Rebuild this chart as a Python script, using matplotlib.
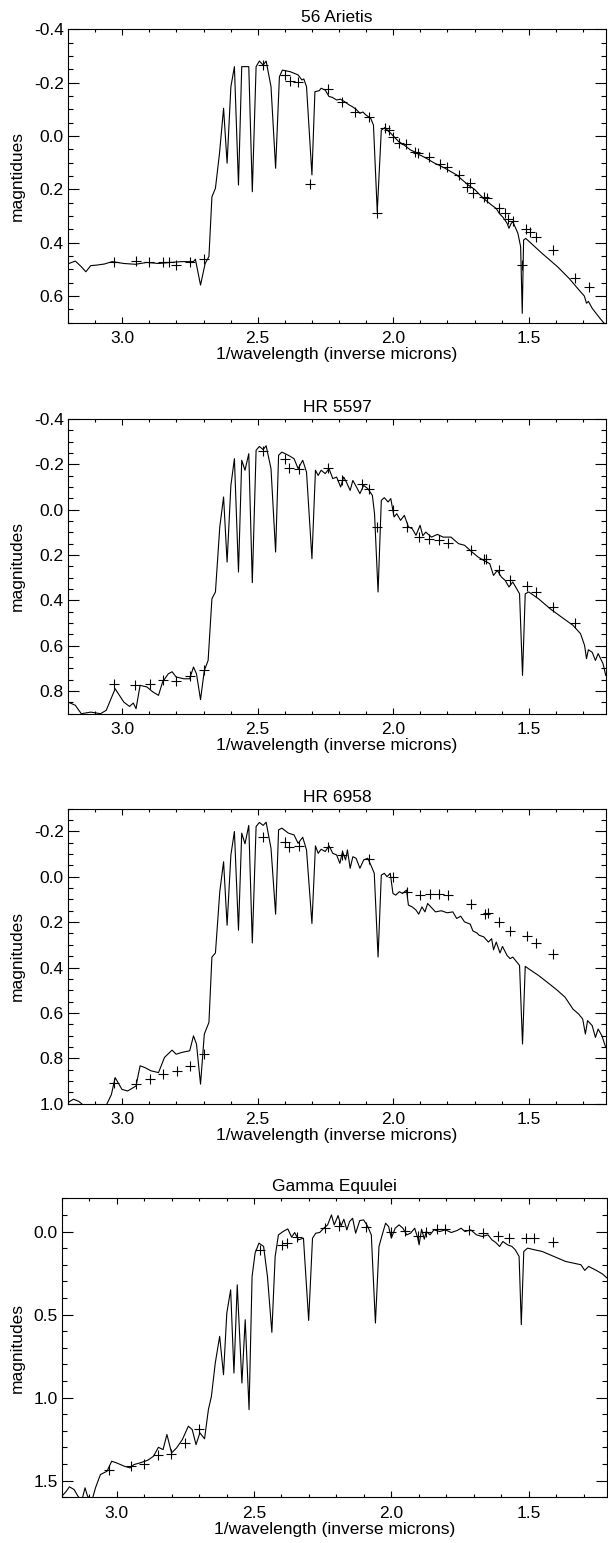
import numpy as np
import matplotlib.pyplot as plt
from matplotlib.ticker import MultipleLocator, FuncFormatter

plt.rcParams['font.family'] = ['Liberation Sans', 'DejaVu Sans']

titles = ['56 Arietis', 'HR 5597', 'HR 6958', 'Gamma Equulei']
ylabels = ['magntidues', 'magnitudes', 'magnitudes', 'magnitudes']
xlabel = '1/wavelength (inverse microns)'

# 56 Arietis: model spectrum and observed points
ari_wave = [3.199, 3.173, 3.151, 3.134, 3.116, 3.094, 3.066, 3.037, 2.994, 2.951, 2.909, 2.866,
            2.823, 2.78, 2.737, 2.73, 2.711, 2.694, 2.68, 2.669, 2.656, 2.641, 2.626, 2.613,
            2.599, 2.586, 2.571, 2.559, 2.533, 2.52, 2.506, 2.494, 2.48, 2.469, 2.451, 2.434,
            2.42, 2.409, 2.38, 2.351, 2.337, 2.33, 2.32, 2.3, 2.289, 2.273, 2.266, 2.251,
            2.237, 2.225, 2.209, 2.195, 2.18, 2.165, 2.151, 2.137, 2.123, 2.112, 2.101, 2.083,
            2.073, 2.059, 2.044, 2.03, 2.02, 2.009, 1.995, 1.98, 1.965, 1.952, 1.937, 1.92,
            1.905, 1.894, 1.875, 1.851, 1.83, 1.809, 1.785, 1.766, 1.745, 1.723, 1.7, 1.68,
            1.66, 1.637, 1.62, 1.609, 1.595, 1.58, 1.573, 1.566, 1.559, 1.54, 1.53, 1.524,
            1.519, 1.511, 1.451, 1.394, 1.351, 1.309, 1.295, 1.287, 1.28, 1.266, 1.237, 1.216]
ari_mag = [0.479, 0.469, 0.49, 0.509, 0.486, 0.484, 0.48, 0.471, 0.478, 0.481, 0.474, 0.478,
           0.474, 0.471, 0.471, 0.462, 0.559, 0.478, 0.452, 0.228, 0.196, 0.065, -0.104, 0.102,
           -0.185, -0.26, 0.184, -0.26, -0.26, 0.209, -0.26, -0.281, -0.266, -0.281, -0.185, 0.121,
           -0.222, -0.247, -0.241, -0.229, -0.21, -0.214, -0.185, 0.146, -0.166, -0.17, -0.179, -0.172,
           -0.148, -0.145, -0.135, -0.138, -0.129, -0.118, -0.11, -0.1, -0.085, -0.09, -0.079, -0.066,
           -0.041, 0.284, -0.022, -0.032, -0.02, -0.01, 0.005, 0.021, 0.03, 0.04, 0.052, 0.06,
           0.07, 0.075, 0.085, 0.1, 0.11, 0.121, 0.135, 0.146, 0.165, 0.184, 0.2, 0.221,
           0.24, 0.259, 0.272, 0.29, 0.305, 0.327, 0.346, 0.33, 0.321, 0.365, 0.415, 0.665,
           0.39, 0.384, 0.44, 0.49, 0.534, 0.584, 0.6, 0.627, 0.62, 0.646, 0.684, 0.709]
ari_obs_wave = [3.03, 2.949, 2.901, 2.851, 2.826, 2.801, 2.751, 2.699, 2.48, 2.401, 2.38, 2.351,
                2.306, 2.24, 2.19, 2.14, 2.09, 2.059, 2.03, 2.016, 2.001, 1.977, 1.954, 1.92,
                1.909, 1.869, 1.827, 1.801, 1.756, 1.727, 1.716, 1.706, 1.666, 1.654, 1.609, 1.587,
                1.577, 1.559, 1.526, 1.509, 1.494, 1.473, 1.409, 1.33, 1.277]
ari_obs_mag = [0.474, 0.469, 0.474, 0.474, 0.474, 0.484, 0.474, 0.462, -0.266, -0.229, -0.208, -0.204,
               0.181, -0.175, -0.129, -0.091, -0.07, 0.29, -0.029, -0.022, 0.002, 0.028, 0.03, 0.059,
               0.062, 0.078, 0.105, 0.115, 0.146, 0.19, 0.175, 0.212, 0.228, 0.234, 0.271, 0.29,
               0.312, 0.318, 0.484, 0.35, 0.359, 0.378, 0.428, 0.531, 0.565]

# HR 5597
hr5597_wave = [3.199, 3.173, 3.151, 3.116, 3.08, 3.059, 3.026, 2.994, 2.973, 2.959, 2.949, 2.934,
               2.909, 2.887, 2.866, 2.851, 2.83, 2.816, 2.801, 2.773, 2.751, 2.737, 2.726, 2.711,
               2.697, 2.683, 2.669, 2.656, 2.64, 2.626, 2.613, 2.599, 2.586, 2.571, 2.559, 2.547,
               2.533, 2.52, 2.506, 2.494, 2.48, 2.469, 2.451, 2.434, 2.423, 2.411, 2.387, 2.366,
               2.351, 2.334, 2.32, 2.3, 2.287, 2.277, 2.266, 2.251, 2.237, 2.223, 2.209, 2.194,
               2.183, 2.173, 2.159, 2.149, 2.137, 2.123, 2.109, 2.094, 2.077, 2.069, 2.056, 2.044,
               2.033, 2.019, 2.009, 1.997, 1.987, 1.973, 1.959, 1.944, 1.93, 1.916, 1.901, 1.891,
               1.88, 1.859, 1.837, 1.816, 1.787, 1.759, 1.737, 1.709, 1.687, 1.666, 1.644, 1.63,
               1.616, 1.601, 1.587, 1.573, 1.559, 1.534, 1.523, 1.513, 1.5, 1.464, 1.421, 1.379,
               1.337, 1.309, 1.294, 1.287, 1.28, 1.266, 1.254, 1.244, 1.226, 1.216]
hr5597_mag = [0.849, 0.863, 0.9, 0.893, 0.9, 0.885, 0.79, 0.849, 0.868, 0.853, 0.878, 0.775,
              0.782, 0.804, 0.819, 0.76, 0.724, 0.715, 0.738, 0.746, 0.746, 0.694, 0.724, 0.838,
              0.709, 0.665, 0.393, 0.363, 0.076, -0.056, 0.231, -0.107, -0.225, 0.275, -0.218, -0.174,
              -0.247, 0.322, -0.262, -0.279, -0.265, -0.282, -0.181, 0.187, -0.24, -0.254, -0.24, -0.225,
              -0.181, -0.218, -0.166, 0.216, -0.174, -0.151, -0.174, -0.159, -0.181, -0.137, -0.144, -0.1,
              -0.144, -0.122, -0.085, -0.129, -0.103, -0.071, -0.107, -0.093, -0.063, 0.018, 0.363, -0.041,
              -0.053, -0.034, -0.049, 0.032, 0.018, 0.047, 0.025, 0.076, 0.084, 0.113, 0.069, 0.115,
              0.099, 0.121, 0.109, 0.121, 0.121, 0.15, 0.157, 0.187, 0.209, 0.224, 0.238, 0.29,
              0.268, 0.297, 0.312, 0.341, 0.319, 0.371, 0.731, 0.371, 0.363, 0.393, 0.437, 0.474,
              0.51, 0.547, 0.599, 0.657, 0.618, 0.629, 0.665, 0.635, 0.679, 0.731]
hr5597_obs_wave = [3.03, 2.951, 2.899, 2.851, 2.801, 2.751, 2.699, 2.48, 2.401, 2.383, 2.349, 2.24,
                   2.19, 2.116, 2.09, 2.059, 2.001, 1.951, 1.904, 1.869, 1.83, 1.799, 1.713, 1.666,
                   1.656, 1.609, 1.569, 1.506, 1.473, 1.409, 1.33]
hr5597_obs_mag = [0.771, 0.775, 0.771, 0.753, 0.756, 0.734, 0.706, -0.259, -0.222, -0.185, -0.181, -0.185,
                  -0.132, -0.115, -0.09, 0.076, 0.0, 0.076, 0.121, 0.131, 0.135, 0.146, 0.176, 0.216,
                  0.219, 0.265, 0.309, 0.337, 0.365, 0.429, 0.5]

# HR 6958
hr6958_wave = [3.2, 3.18, 3.16, 3.14, 3.1, 3.06, 3.04, 3.026, 3.001, 2.98, 2.949, 2.934,
               2.916, 2.894, 2.866, 2.844, 2.816, 2.801, 2.78, 2.751, 2.737, 2.726, 2.711, 2.697,
               2.68, 2.669, 2.656, 2.64, 2.626, 2.613, 2.599, 2.586, 2.571, 2.559, 2.547, 2.533,
               2.52, 2.506, 2.494, 2.48, 2.469, 2.451, 2.434, 2.423, 2.411, 2.387, 2.366, 2.351,
               2.334, 2.32, 2.3, 2.287, 2.277, 2.266, 2.251, 2.237, 2.223, 2.209, 2.197, 2.187,
               2.176, 2.169, 2.159, 2.149, 2.137, 2.123, 2.109, 2.094, 2.08, 2.07, 2.056, 2.044,
               2.033, 2.023, 2.011, 2.001, 1.991, 1.977, 1.966, 1.951, 1.944, 1.93, 1.916, 1.906,
               1.894, 1.883, 1.873, 1.859, 1.844, 1.823, 1.801, 1.78, 1.766, 1.751, 1.737, 1.716,
               1.706, 1.691, 1.683, 1.666, 1.649, 1.637, 1.63, 1.62, 1.606, 1.597, 1.58, 1.569,
               1.559, 1.534, 1.523, 1.513, 1.5, 1.464, 1.421, 1.394, 1.366, 1.337, 1.316, 1.301,
               1.291, 1.283, 1.266, 1.254, 1.244, 1.23, 1.216]
hr6958_mag = [0.995, 0.98, 0.99, 1.01, 1.02, 1.01, 0.96, 0.885, 0.937, 0.944, 0.922, 0.833,
              0.841, 0.855, 0.863, 0.796, 0.764, 0.782, 0.774, 0.767, 0.701, 0.737, 0.914, 0.693,
              0.642, 0.354, 0.336, 0.066, -0.066, 0.214, -0.096, -0.199, 0.236, -0.192, -0.145, -0.226,
              0.292, -0.221, -0.239, -0.226, -0.24, -0.125, 0.165, -0.206, -0.214, -0.192, -0.184, -0.147,
              -0.174, -0.118, 0.206, -0.136, -0.103, -0.121, -0.111, -0.136, -0.103, -0.096, -0.059, -0.111,
              -0.074, -0.118, -0.037, -0.088, -0.081, -0.037, -0.074, -0.081, -0.044, -0.015, 0.354, -0.007,
              -0.015, 0.0, -0.015, 0.074, 0.081, 0.066, 0.074, 0.059, 0.125, 0.133, 0.147, 0.165,
              0.133, 0.155, 0.118, 0.136, 0.155, 0.15, 0.159, 0.155, 0.184, 0.174, 0.199, 0.209,
              0.239, 0.248, 0.258, 0.265, 0.288, 0.273, 0.322, 0.288, 0.336, 0.307, 0.347, 0.361,
              0.354, 0.391, 0.737, 0.395, 0.406, 0.435, 0.475, 0.501, 0.531, 0.583, 0.605, 0.627,
              0.693, 0.634, 0.656, 0.708, 0.671, 0.701, 0.752]
hr6958_obs_wave = [3.03, 2.949, 2.899, 2.849, 2.799, 2.751, 2.697, 2.48, 2.401, 2.383, 2.349, 2.24,
                   2.19, 2.09, 2.001, 1.951, 1.901, 1.866, 1.83, 1.799, 1.713, 1.663, 1.651, 1.609,
                   1.569, 1.506, 1.473, 1.409]
hr6958_obs_mag = [0.907, 0.914, 0.892, 0.87, 0.858, 0.836, 0.779, -0.177, -0.155, -0.13, -0.137, -0.13,
                  -0.096, -0.078, 0.0, 0.066, 0.081, 0.077, 0.077, 0.081, 0.121, 0.165, 0.159, 0.199,
                  0.239, 0.261, 0.291, 0.339]

# Gamma Equulei
geq_wave = [3.199, 3.183, 3.172, 3.155, 3.141, 3.127, 3.115, 3.106, 3.09, 3.077, 3.059, 3.035,
            3.018, 3.0, 2.972, 2.951, 2.937, 2.915, 2.887, 2.866, 2.848, 2.831, 2.817, 2.8,
            2.782, 2.761, 2.739, 2.725, 2.711, 2.697, 2.68, 2.666, 2.655, 2.641, 2.625, 2.611,
            2.599, 2.585, 2.573, 2.561, 2.544, 2.532, 2.518, 2.507, 2.496, 2.482, 2.465, 2.451,
            2.435, 2.423, 2.411, 2.394, 2.377, 2.363, 2.352, 2.338, 2.32, 2.301, 2.287, 2.275,
            2.261, 2.246, 2.232, 2.218, 2.208, 2.194, 2.183, 2.173, 2.162, 2.152, 2.141, 2.13,
            2.115, 2.101, 2.087, 2.073, 2.058, 2.045, 2.035, 2.021, 2.01, 2.0, 1.986, 1.972,
            1.958, 1.944, 1.93, 1.915, 1.904, 1.899, 1.89, 1.88, 1.873, 1.859, 1.845, 1.824,
            1.803, 1.782, 1.761, 1.746, 1.732, 1.711, 1.69, 1.669, 1.648, 1.634, 1.62, 1.606,
            1.594, 1.577, 1.561, 1.549, 1.535, 1.527, 1.518, 1.504, 1.479, 1.451, 1.423, 1.394,
            1.366, 1.338, 1.31, 1.296, 1.282, 1.254, 1.232, 1.214]
geq_mag = [1.593, 1.563, 1.537, 1.553, 1.593, 1.62, 1.543, 1.593, 1.62, 1.543, 1.463, 1.443,
           1.383, 1.393, 1.413, 1.423, 1.403, 1.393, 1.377, 1.353, 1.299, 1.313, 1.222, 1.333,
           1.303, 1.253, 1.172, 1.192, 1.283, 1.212, 1.248, 1.072, 0.992, 0.792, 0.631, 0.862,
           0.491, 0.351, 0.852, 0.321, 0.912, 0.531, 1.072, 0.271, 0.13, 0.07, 0.09, 0.271,
           0.607, 0.15, 0.02, 0.0, -0.016, 0.034, 0.006, 0.05, 0.04, 0.535, 0.04, 0.01,
           0.006, -0.02, -0.04, -0.1, -0.04, -0.096, -0.034, -0.074, -0.01, -0.06, -0.08, 0.01,
           -0.066, -0.07, -0.034, 0.02, 0.551, 0.09, 0.03, -0.05, -0.03, 0.04, -0.02, -0.04,
           -0.02, 0.02, 0.01, -0.02, 0.04, 0.08, -0.014, 0.046, 0.0, 0.02, -0.01, 0.0,
           -0.01, 0.006, -0.006, -0.02, 0.0, -0.01, 0.02, 0.03, 0.02, 0.05, 0.066, 0.09,
           0.06, 0.08, 0.09, 0.11, 0.15, 0.561, 0.12, 0.1, 0.11, 0.12, 0.14, 0.16,
           0.18, 0.19, 0.2, 0.234, 0.21, 0.234, 0.255, 0.281]
geq_obs_wave = [3.028, 2.948, 2.899, 2.849, 2.803, 2.751, 2.7, 2.479, 2.399, 2.38, 2.345, 2.242,
                2.19, 2.092, 2.0, 1.951, 1.904, 1.873, 1.834, 1.803, 1.718, 1.665, 1.613, 1.573,
                1.511, 1.479, 1.411]
geq_obs_mag = [1.437, 1.413, 1.397, 1.343, 1.337, 1.273, 1.188, 0.11, 0.08, 0.07, 0.034, -0.02,
               -0.034, -0.03, 0.0, -0.004, 0.026, 0.0, -0.014, -0.014, -0.01, 0.006, 0.026, 0.04,
               0.04, 0.04, 0.064]

waves = [ari_wave, hr5597_wave, hr6958_wave, geq_wave]
mags = [ari_mag, hr5597_mag, hr6958_mag, geq_mag]
obs_waves = [ari_obs_wave, hr5597_obs_wave, hr6958_obs_wave, geq_obs_wave]
obs_mags = [ari_obs_mag, hr5597_obs_mag, hr6958_obs_mag, geq_obs_mag]

ylims = [(0.7, -0.4), (0.9, -0.4), (1.0, -0.3), (1.6, -0.2)]
ymajor = [0.2, 0.2, 0.2, 0.5]
yminor = [0.05, 0.05, 0.05, 0.1]

W, H = 608, 1543
# axes boxes in pixels: left, top, right, bottom
boxes = [(68, 29.3, 606, 322.7), (68, 419, 606, 713.7),
         (68, 808.6, 606, 1103.7), (61.7, 1198.3, 607, 1497.3)]

fig = plt.figure(figsize=(W / 100, H / 100), dpi=100)

def fmt(v, pos):
  return '%.1f' % (round(v, 3) + 0.0)

for i in range(4):
  l, t, r, b = boxes[i]
  ax = fig.add_axes([l / W, 1 - b / H, (r - l) / W, (b - t) / H])
  ax.plot(waves[i], mags[i], color='black', lw=0.8)
  ax.plot(obs_waves[i], obs_mags[i], linestyle='none', marker='+', color='black',
          markersize=7, markeredgewidth=0.8)
  ax.set_xlim(3.2, 1.215)
  ax.set_ylim(*ylims[i])
  ax.xaxis.set_major_locator(MultipleLocator(0.5))
  ax.xaxis.set_minor_locator(MultipleLocator(0.1))
  ax.yaxis.set_major_locator(MultipleLocator(ymajor[i]))
  ax.yaxis.set_minor_locator(MultipleLocator(yminor[i]))
  ax.xaxis.set_major_formatter(FuncFormatter(fmt))
  ax.yaxis.set_major_formatter(FuncFormatter(fmt))
  ax.tick_params(which='both', direction='in', top=True, right=True, width=0.8,
                 labelsize=12.5, colors='black')
  ax.tick_params(axis='x', which='major', length=4.3, pad=6)
  ax.tick_params(axis='x', which='minor', length=2.2)
  ax.tick_params(axis='y', which='major', length=7.8, pad=3)
  ax.tick_params(axis='y', which='minor', length=3.9)
  for s in ax.spines.values():
    s.set_linewidth(0.8)
  ax.set_title(titles[i], fontsize=12.5, pad=5)
  ax.set_xlabel(xlabel, fontsize=12.5, labelpad=1)
  fig.text(17 / W, 1 - (t + b) / 2 / H, ylabels[i], rotation=90, ha='center',
           va='center', fontsize=12.5)

fig.savefig('out.png', dpi=100)
